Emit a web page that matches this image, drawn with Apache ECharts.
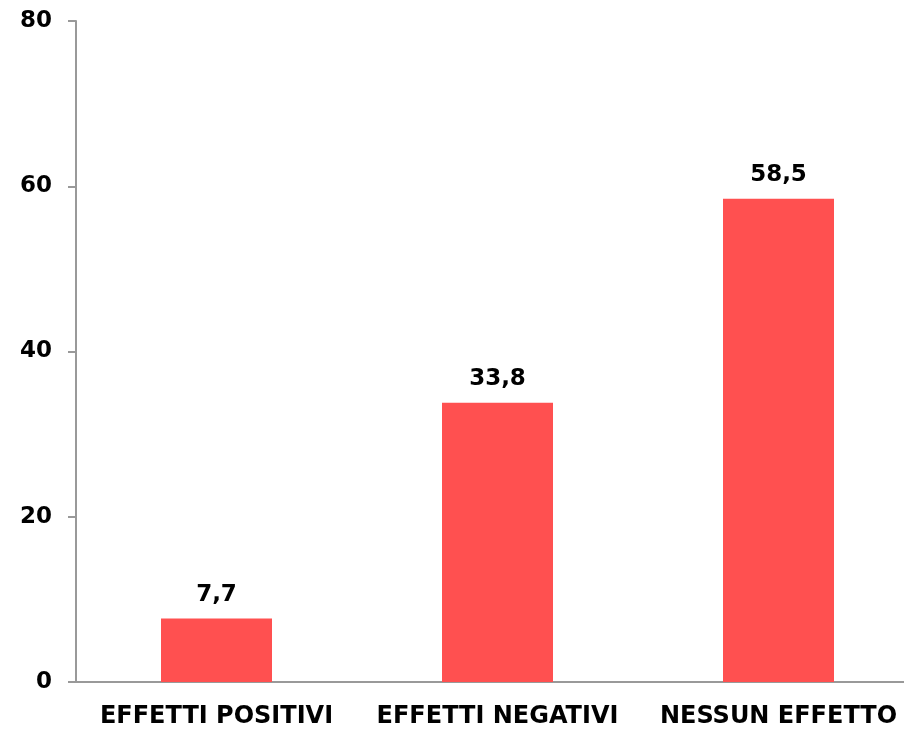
<!DOCTYPE html>
<html>
<head>
<meta charset="utf-8">
<script src="https://cdn.jsdelivr.net/npm/echarts@6/dist/echarts.min.js"></script>
<style>
  html, body { margin: 0; padding: 0; background: #fff; overflow: hidden; }
  #chart { width: 920px; height: 731px; }
</style>
</head>
<body>
<div id="chart"></div>
<script>
// categorie e percentuali
const categories = ['EFFETTI POSITIVI', 'EFFETTI NEGATIVI', 'NESSUN EFFETTO'];
const values = [7.7, 33.8, 58.5];
const yTicks = [0, 20, 40, 60, 80];

const chart = echarts.init(document.getElementById('chart'));

const option = {
  animation: false,
  textStyle: { fontFamily: 'DejaVu Sans' },
  grid: {
    left: 76,
    top: 21,
    bottom: 49,
    right: 1
  },
  xAxis: {
    type: 'category',
    data: categories,
    axisLine: { lineStyle: { color: '#999', width: 2 } },
    axisTick: { length: 8, lineStyle: { color: '#999', width: 2 } },
    axisLabel: {
      interval: 0,
      color: '#000',
      fontWeight: 'bold',
      fontSize: 24,
      margin: 23
    }
  },
  yAxis: {
    type: 'value',
    min: yTicks[0],
    max: yTicks[yTicks.length - 1],
    interval: 20,
    splitLine: { show: false },
    axisLine: { show: true, lineStyle: { color: '#999', width: 2 } },
    axisTick: { show: true, length: 8, lineStyle: { color: '#999', width: 2 } },
    axisLabel: {
      color: '#000',
      fontWeight: 'bold',
      fontSize: 23,
      margin: 24
    }
  },
  series: [
    {
      type: 'bar',
      data: values,
      barWidth: 111,
      itemStyle: { color: '#FF5050' },
      label: {
        show: true,
        position: 'top',
        distance: 12,
        color: '#000',
        fontWeight: 'bold',
        fontSize: 23,
        formatter: p => String(p.value).replace('.', ',')
      }
    }
  ]
};

chart.setOption(option);
</script>
</body>
</html>
